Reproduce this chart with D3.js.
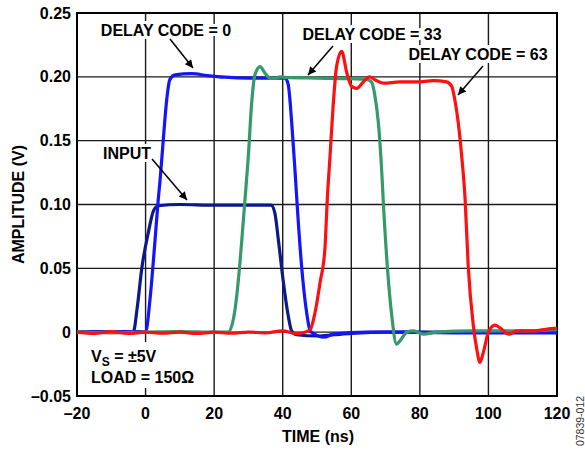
<!DOCTYPE html>
<html>
<head>
<meta charset="utf-8">
<script src="https://cdn.jsdelivr.net/npm/d3@7"></script>
<style>
  body { margin: 0; background: #fff; }
  text { font-family: "Liberation Sans", Arial, sans-serif; font-weight: bold; fill: #000; }
</style>
</head>
<body>
<div id="chart"></div>
<script>

/******************************************************************************/
/*  Data                                                                      */
/******************************************************************************/

// Axis ticks
var xTicks = [-20, 0, 20, 40, 60, 80, 100, 120];
var yTicks = [-0.05, 0, 0.05, 0.10, 0.15, 0.20, 0.25];
var yTickLabels = ['\u20130.05', '0', '0.05', '0.10', '0.15', '0.20', '0.25'];
var xTickLabels = ['\u201320', '0', '20', '40', '60', '80', '100', '120'];

// Traces: [time (ns), amplitude (V)]
var inputTrace = [
  [-20, 0], [-15, 0.0005], [-10, 0], [-6, 0.0005], [-3.6, 0], [-2.4, 0.02],
  [-1.1, 0.05], [0.8, 0.078], [2.3, 0.095], [3.7, 0.099], [10, 0.1], [20, 0.0995],
  [30, 0.0995], [36.6, 0.0995], [37.7, 0.0935], [38.7, 0.073], [40.2, 0.039],
  [41.6, 0.013], [42.6, 0.001], [44, -0.002], [50, -0.003], [55, -0.002], [60, -0.001],
  [70, 0], [90, 0], [120, 0]
];

var code0Trace = [
  [-20, 0], [-10, 0], [-2, 0.0005], [0, 0], [1.3, 0.026], [2.7, 0.07], [3.7, 0.104],
  [4.2, 0.118], [5.2, 0.152], [6.2, 0.183], [7.1, 0.198], [8.6, 0.2016],
  [13.4, 0.2025], [18, 0.201], [23.2, 0.1997], [30, 0.199], [37.7, 0.199],
  [40.7, 0.199], [41.6, 0.194], [42.6, 0.165], [43.6, 0.126], [44.4, 0.092],
  [45.5, 0.052], [47, 0.015], [48, 0.001], [50.4, -0.003], [52, -0.004],
  [54.7, -0.0016], [64.5, 0], [75, 0], [90, -0.0005], [120, -0.0005]
];

var code33Trace = [
  [-20, 0], [-10, -0.0005], [0, 0], [10, 0.0005], [20, 0], [24.1, 0], [26.1, 0.018],
  [27, 0.039], [28, 0.07], [29, 0.104], [30, 0.139], [30.9, 0.178], [31.9, 0.2016],
  [33.4, 0.208], [34.8, 0.203], [36.3, 0.199], [37.7, 0.199], [39.2, 0.2],
  [40.7, 0.1995], [50, 0.199], [60, 0.1985], [64.5, 0.198], [65.9, 0.196],
  [66.9, 0.185], [67.9, 0.164], [68.9, 0.125], [69.3, 0.104], [70.5, 0.052],
  [71.8, 0.013], [73.2, -0.0094], [74.2, -0.0068], [76.2, 0], [78.1, 0.001],
  [81, -0.0016], [85, 0], [95, 0.001], [110, 0.001], [120, 0.002]
];

var code63Trace = [
  [-20, 0], [-15, -0.001], [-10, 0.0005], [-5, -0.001], [0, 0], [5, -0.0008],
  [10, 0], [15, -0.001], [20, 0], [25, -0.0008], [30, 0], [35, -0.0005],
  [40, 0.001], [44, -0.001], [46.5, 0], [48, 0.002], [49.4, 0.015], [50.9, 0.039],
  [52.3, 0.065], [53, 0.104], [53.8, 0.138], [54.7, 0.177], [55.7, 0.208],
  [57.2, 0.22], [58.7, 0.203], [60.1, 0.1925], [61.6, 0.191], [63.5, 0.196],
  [65.3, 0.2], [66.9, 0.1977], [69.3, 0.195], [74.2, 0.196], [79.1, 0.196],
  [83.9, 0.197], [87.8, 0.196], [89.3, 0.1925], [90.2, 0.182], [91.2, 0.164],
  [92.2, 0.138], [93.2, 0.104], [94.1, 0.052], [95.6, 0.005], [96.6, -0.0133],
  [97.5, -0.0237], [98.5, -0.016], [100, 0], [101.9, 0.0055], [103.9, 0.0023],
  [105.9, -0.0016], [108.3, 0.001], [113.1, 0.001], [119.4, 0.003], [120, 0.003]
];

/******************************************************************************/
/*  Chart                                                                     */
/******************************************************************************/

var width = 585, height = 451;
var margin = { top: 13, right: 28, bottom: 55, left: 77 };

var svg = d3.select('#chart')
  .append('svg')
    .attr('width', width)
    .attr('height', height);

var x = d3.scaleLinear().domain([-20, 120]).range([margin.left, width - margin.right]);
var y = d3.scaleLinear().domain([-0.05, 0.25]).range([height - margin.bottom, margin.top]);

// Grid
svg.append('g').selectAll('line').data(xTicks.slice(1, -1))
  .enter().append('line')
    .attr('x1', function(d){ return x(d); }).attr('x2', function(d){ return x(d); })
    .attr('y1', y(0.25)).attr('y2', y(-0.05))
    .attr('stroke', '#1a1a1a').attr('stroke-width', 1.4);

svg.append('g').selectAll('line').data(yTicks.slice(1, -1))
  .enter().append('line')
    .attr('x1', x(-20)).attr('x2', x(120))
    .attr('y1', function(d){ return y(d); }).attr('y2', function(d){ return y(d); })
    .attr('stroke', '#1a1a1a').attr('stroke-width', 1.4);

// Frame
svg.append('rect')
  .attr('x', x(-20)).attr('y', y(0.25))
  .attr('width', x(120) - x(-20)).attr('height', y(-0.05) - y(0.25))
  .attr('fill', 'none').attr('stroke', '#000').attr('stroke-width', 2);

// Tick labels
svg.append('g').selectAll('text').data(xTicks)
  .enter().append('text')
    .attr('x', function(d){ return x(d); })
    .attr('y', y(-0.05) + 23)
    .attr('text-anchor', 'middle')
    .style('font-size', '16px')
    .text(function(d, i){ return xTickLabels[i]; });

svg.append('g').selectAll('text').data(yTicks)
  .enter().append('text')
    .attr('x', x(-20) - 6)
    .attr('y', function(d){ return y(d) + 5.5; })
    .attr('text-anchor', 'end')
    .style('font-size', '16px')
    .text(function(d, i){ return yTickLabels[i]; });

// Axis titles
svg.append('text')
  .attr('x', 318).attr('y', 442)
  .attr('text-anchor', 'middle')
  .style('font-size', '16px')
  .text('TIME (ns)');

svg.append('text')
  .attr('transform', 'translate(24,' + ((y(0.25) + y(-0.05)) / 2) + ') rotate(-90)')
  .attr('text-anchor', 'middle')
  .style('font-size', '16px')
  .text('AMPLITUDE (V)');

// Conditions box (white background hides the grid under the text)
svg.append('rect')
  .attr('x', 86).attr('y', 342)
  .attr('width', 112).attr('height', 46)
  .attr('fill', '#fff');

// Traces
var line = d3.line()
  .x(function(d){ return x(d[0]); })
  .y(function(d){ return y(d[1]); })
  .curve(d3.curveMonotoneX);

var traces = [
  { data: inputTrace,  color: '#0b1a8a' },
  { data: code0Trace,  color: '#1414ff' },
  { data: code33Trace, color: '#35996b' },
  { data: code63Trace, color: '#ff1010' }
];

svg.append('g').selectAll('path').data(traces)
  .enter().append('path')
    .attr('d', function(d){ return line(d.data); })
    .attr('fill', 'none')
    .attr('stroke', function(d){ return d.color; })
    .attr('stroke-width', 3.2)
    .attr('stroke-linejoin', 'round');

// Annotations
svg.append('defs').append('marker')
  .attr('id', 'arrow')
  .attr('viewBox', '0 0 10 10')
  .attr('refX', 10).attr('refY', 5)
  .attr('markerWidth', 11).attr('markerHeight', 8)
  .attr('markerUnits', 'userSpaceOnUse')
  .attr('orient', 'auto')
  .append('path')
    .attr('d', 'M0,0 L10,5 L0,10 z')
    .attr('fill', '#000');

var labels = [
  { text: 'DELAY CODE = 0',  x: 166, y: 30, ax: 170, ay: 39, tx: 193, ty: 68 },
  { text: 'DELAY CODE = 33', x: 372, y: 34, ax: 333, ay: 46, tx: 308, ty: 75 },
  { text: 'DELAY CODE = 63', x: 478, y: 54, ax: 483, ay: 66, tx: 458, ty: 95 },
  { text: 'INPUT',           x: 127, y: 153, ax: 152, ay: 159, tx: 187, ty: 200 }
];

var lab = svg.append('g').selectAll('g').data(labels)
  .enter().append('g');

lab.append('line')
  .attr('x1', function(d){ return d.ax; }).attr('y1', function(d){ return d.ay; })
  .attr('x2', function(d){ return d.tx; }).attr('y2', function(d){ return d.ty; })
  .attr('stroke', '#000').attr('stroke-width', 1.5)
  .attr('marker-end', 'url(#arrow)');

lab.append('text')
  .attr('x', function(d){ return d.x; })
  .attr('y', function(d){ return d.y + 5.5; })
  .attr('text-anchor', 'middle')
  .style('font-size', '16px')
  .style('paint-order', 'stroke')
  .style('stroke', '#fff').style('stroke-width', '6px')
  .text(function(d){ return d.text; });

// Conditions
var cond = svg.append('text')
  .attr('x', 91).attr('y', 362)
  .style('font-size', '16px');
cond.append('tspan').text('V');
cond.append('tspan').attr('dy', 4).style('font-size', '12px').text('S');
cond.append('tspan').attr('dy', -4).text(' = \u00B15V');

svg.append('text')
  .attr('x', 91).attr('y', 383)
  .style('font-size', '16px')
  .text('LOAD = 150\u03A9');

// Figure id
svg.append('text')
  .attr('transform', 'translate(584,421) rotate(-90)')
  .attr('text-anchor', 'middle')
  .style('font-size', '10.5px')
  .style('font-weight', 'normal')
  .style('fill', '#333')
  .text('07839-012');

</script>
</body>
</html>
